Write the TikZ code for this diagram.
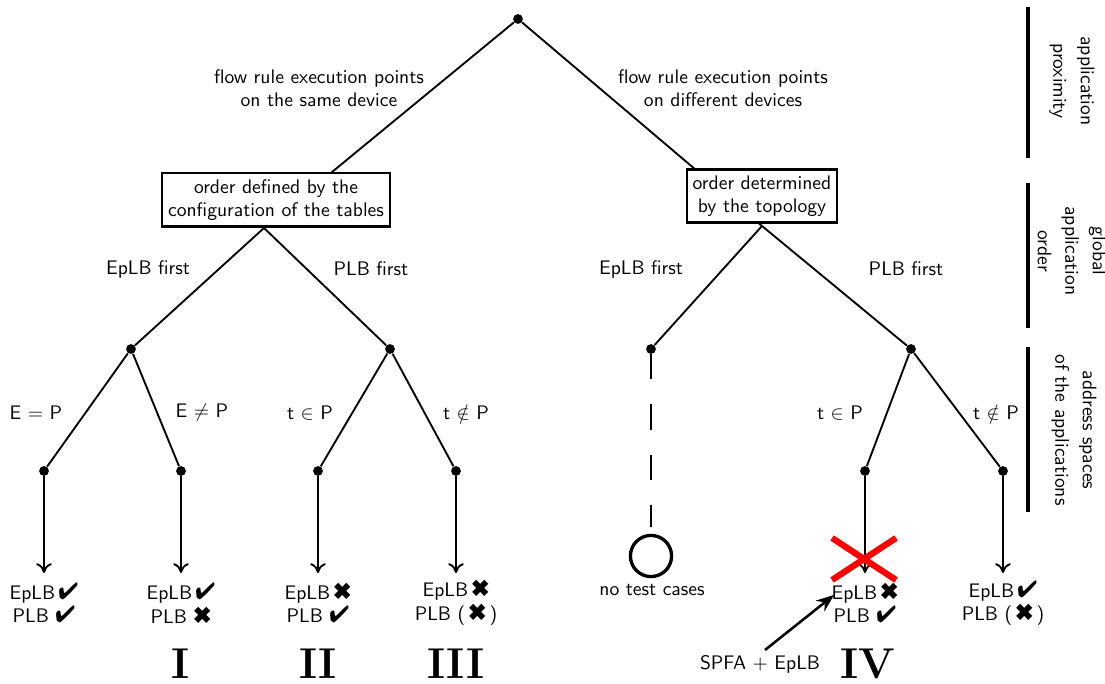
\documentclass[tikz,border=0pt]{standalone}
\usepackage{pifont}
\usetikzlibrary{arrows.meta}
\newcommand{\yes}{{\large\ding{52}}}
\newcommand{\no}{{\large\ding{54}}}
\begin{document}
\begin{tikzpicture}[x=0.51pt,y=-0.51pt,
  font=\sffamily,
  tree/.style={line width=0.95pt},
  dot/.style={circle,fill=black,inner sep=0pt,minimum size=5pt},
  decision/.style={draw,line width=1.1pt,fill=white,align=center,inner sep=3pt},
  lbl/.style={align=center},
  leaf/.style={align=center,inner sep=0pt},
  outcome/.style={tree,-{To[length=5pt,width=8pt]}},
  num/.style={font=\rmfamily\bfseries\fontsize{22}{24}\selectfont,inner sep=0pt},
  bar/.style={line width=1.8pt},
  axis/.style={rotate=-90,align=center}]
\useasboundingbox (0,0) rectangle (1105,684);

% tree points
\node[dot] (root) at (518,19) {};
\coordinate (Lc) at (264,228);
\coordinate (Rc) at (762,226);
\node[dot] (LL) at (131,349) {};
\node[dot] (LR) at (390,349) {};
\node[dot] (RL) at (651,349) {};
\node[dot] (RR) at (911,349) {};

% level 0 and level 1 branches
\draw[tree] (root) -- (Lc);
\draw[tree] (root) -- (Rc);
\draw[tree] (Lc) -- (LL);
\draw[tree] (Lc) -- (LR);
\draw[tree] (Rc) -- (RL);
\draw[tree] (Rc) -- (RR);

% decision boxes on top of the branches
\node[decision] (Lbox) at (276,200) {order defined by the\\configuration of the tables};
\node[decision] (Rbox) at (762,196) {order determined\\by the topology};
\node[lbl] (lsame) at (319,88) {flow rule execution points\\on the same device};
\node[lbl] (ldiff) at (723,88) {flow rule execution points\\on different devices};

\node (e1) at (148,269) {EpLB first};
\node (p1) at (371,269) {PLB first};
\node (e2) at (641,269) {EpLB first};
\node (p2) at (906,269) {PLB first};

% level 2: address spaces
\node[dot] (a1) at (44,471) {};
\node[dot] (a2) at (181,471) {};
\node[dot] (a3) at (318,471) {};
\node[dot] (a4) at (456,471) {};
\node[dot] (a5) at (865,471) {};
\node[dot] (a6) at (1003,471) {};
\draw[tree] (LL) -- (a1);
\draw[tree] (LL) -- (a2);
\draw[tree] (LR) -- (a3);
\draw[tree] (LR) -- (a4);
\draw[tree] (RR) -- (a5);
\draw[tree] (RR) -- (a6);
\node (c1) at (36,413) {E $=$ P};
\node (c2) at (202,413) {E $\neq$ P};
\node (c3) at (310,413) {t $\in$ P};
\node (c4) at (466,413) {t $\notin$ P};
\node (c5) at (840,413) {t $\in$ P};
\node (c6) at (996,413) {t $\notin$ P};

% empty branch
\node[circle,draw,line width=1.7pt,minimum size=21pt,inner sep=0pt] (none) at (651,556) {};
\coordinate (dashend) at (651,527);
\draw[tree,dash pattern=on 12.8pt off 12.8pt] (RL) -- (dashend);
\node (nonelbl) at (652,590) {no test cases};

% outcomes
\coordinate (t1) at (44,573);
\coordinate (t2) at (181,573);
\coordinate (t3) at (318,573);
\coordinate (t4) at (456,573);
\coordinate (t5) at (865,573);
\coordinate (t6) at (1003,573);
\draw[outcome] (a1) -- (t1);
\draw[outcome] (a2) -- (t2);
\draw[outcome] (a3) -- (t3);
\draw[outcome] (a4) -- (t4);
\draw[outcome] (a5) -- (t5);
\draw[outcome] (a6) -- (t6);
\node[leaf] (o1) at (44,603) {EpLB\,\yes\\PLB \yes};
\node[leaf] (o2) at (181,603) {EpLB\,\yes\\PLB \no};
\node[leaf] (o3) at (318,603) {EpLB\,\no\\PLB \yes};
\node[leaf] (o4) at (456,603) {EpLB\,\no\\PLB (\,\no\,)};
\node[leaf] (o5) at (865,603) {EpLB\,\no\\PLB \yes};
\node[leaf] (o6) at (1003,603) {EpLB\,\yes\\PLB (\,\no\,)};

% red cross over the EpLB-first outcome of IV
\coordinate (x1) at (832,538);
\coordinate (x2) at (896,580);
\coordinate (x3) at (896,538);
\coordinate (x4) at (832,580);
\draw[red,line width=3.2pt] (x1) -- (x2);
\draw[red,line width=3.2pt] (x3) -- (x4);

% SPFA annotation
\node (spfa) at (760,664) {SPFA $+$ EpLB};
\coordinate (spfafrom) at (765,650);
\coordinate (spfatip) at (834,595);
\draw[line width=1.3pt,-{Stealth[length=9pt,width=7pt]}] (spfafrom) -- (spfatip);

% case numerals
\node[num] (n1) at (181,664) {I};
\node[num] (n2) at (318,664) {II};
\node[num] (n3) at (456,664) {III};
\node[num] (n4) at (868,664) {IV};

% classification axis on the right
\coordinate (b1s) at (1028,7);   \coordinate (b1e) at (1028,158);
\coordinate (b2s) at (1028,183); \coordinate (b2e) at (1028,328);
\coordinate (b3s) at (1028,347); \coordinate (b3e) at (1028,512);
\draw[bar] (b1s) -- (b1e);
\draw[bar] (b2s) -- (b2e);
\draw[bar] (b3s) -- (b3e);
\node[axis] (ax1) at (1072,81) {application\\[2pt]proximity};
\node[axis] (ax2) at (1072,251) {global\\[2pt]application\\[2pt]order};
\node[axis] (ax3) at (1074,430) {address spaces\\[2pt]of the applications};
\end{tikzpicture}
\end{document}
